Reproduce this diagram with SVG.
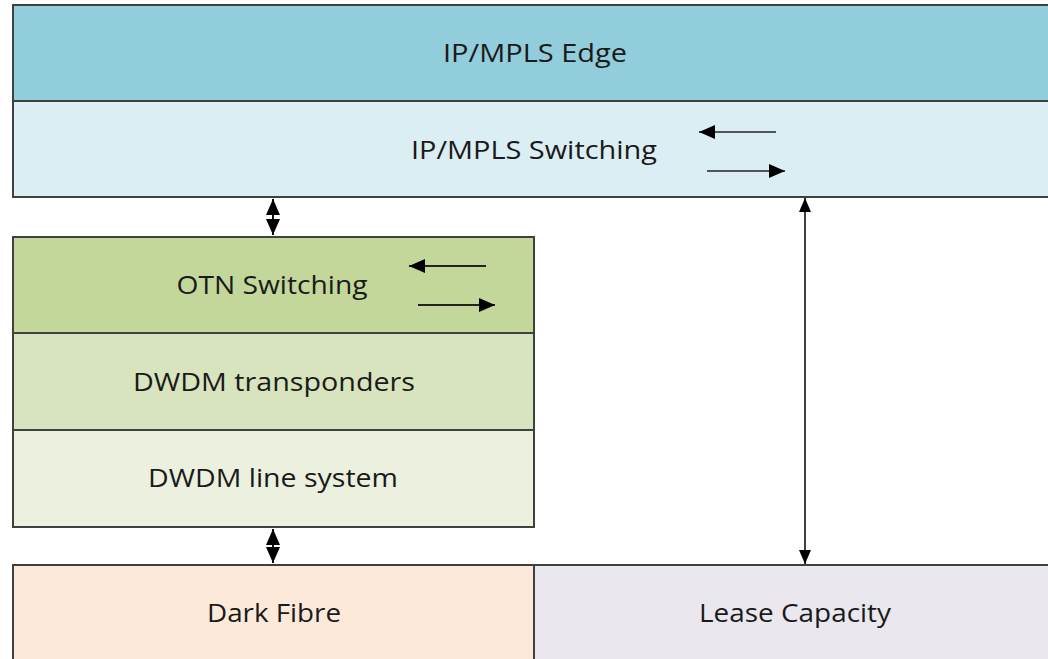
<svg xmlns="http://www.w3.org/2000/svg" width="1048" height="659" viewBox="0 0 1048 659">
  <defs>
    <style>
      .box { stroke: #404040; stroke-width: 2; }
      .lbl { font-family: "Open Sans", "Liberation Sans", sans-serif; font-size: 26px; fill: #1a1a1a; text-anchor: middle; }
      .conn { stroke: #111; stroke-width: 1.6; fill: none; }
      .flow { stroke: #222; stroke-width: 2; fill: none; }
    </style>
    <!-- stubby double-ended head for the short layer links -->
    <marker id="headL" viewBox="0 0 10 10" refX="10" refY="5" markerWidth="16" markerHeight="14" markerUnits="userSpaceOnUse" orient="auto-start-reverse" preserveAspectRatio="none">
      <path d="M0,0 L10,5 L0,10 z" fill="#000"/>
    </marker>
    <!-- head for the long lease-capacity link -->
    <marker id="headS" viewBox="0 0 10 10" refX="10" refY="5" markerWidth="14" markerHeight="12" markerUnits="userSpaceOnUse" orient="auto-start-reverse" preserveAspectRatio="none">
      <path d="M0,0 L10,5 L0,10 z" fill="#000"/>
    </marker>
    <!-- head for the switching direction arrows -->
    <marker id="headF" viewBox="0 0 10 10" refX="10" refY="5" markerWidth="16" markerHeight="14" markerUnits="userSpaceOnUse" orient="auto" preserveAspectRatio="none">
      <path d="M0,0 L10,5 L0,10 z" fill="#000"/>
    </marker>
  </defs>

  <rect width="1048" height="659" fill="#ffffff"/>

  <!-- IP/MPLS layer -->
  <g id="ip-mpls-edge">
    <rect class="box" x="13" y="5" width="1050" height="96" fill="#92CDDC"/>
    <text class="lbl" x="535" y="62" textLength="184" lengthAdjust="spacingAndGlyphs">IP/MPLS Edge</text>
  </g>
  <g id="ip-mpls-switching">
    <rect class="box" x="13" y="101" width="1050" height="96" fill="#DBEEF3"/>
    <text class="lbl" x="534" y="159" textLength="246" lengthAdjust="spacingAndGlyphs">IP/MPLS Switching</text>
  </g>

  <!-- optical stack -->
  <g id="otn-switching">
    <rect class="box" x="13" y="237" width="521" height="96" fill="#C4D79B"/>
    <text class="lbl" x="272" y="294" textLength="191" lengthAdjust="spacingAndGlyphs">OTN Switching</text>
  </g>
  <g id="dwdm-transponders">
    <rect class="box" x="13" y="333" width="521" height="97" fill="#D7E4BD"/>
    <text class="lbl" x="274" y="391" textLength="282" lengthAdjust="spacingAndGlyphs">DWDM transponders</text>
  </g>
  <g id="dwdm-line-system">
    <rect class="box" x="13" y="430" width="521" height="97" fill="#EBF1DE"/>
    <text class="lbl" x="273" y="487" textLength="250" lengthAdjust="spacingAndGlyphs">DWDM line system</text>
  </g>

  <!-- physical layer -->
  <g id="dark-fibre">
    <rect class="box" x="13" y="565" width="521" height="110" fill="#FDE9D9"/>
    <text class="lbl" x="274" y="622" textLength="134" lengthAdjust="spacingAndGlyphs">Dark Fibre</text>
  </g>
  <g id="lease-capacity">
    <rect class="box" x="534" y="565" width="530" height="110" fill="#EAE7EF"/>
    <text class="lbl" x="795" y="622" textLength="192" lengthAdjust="spacingAndGlyphs">Lease Capacity</text>
  </g>

  <!-- connectors -->
  <g id="connectors">
    <line class="conn" x1="273" y1="199" x2="273" y2="235" marker-start="url(#headL)" marker-end="url(#headL)" style="stroke-width:2"/>
    <line class="conn" x1="273" y1="529" x2="273" y2="563" marker-start="url(#headL)" marker-end="url(#headL)" style="stroke-width:2"/>
    <line class="conn" x1="805" y1="198" x2="805" y2="564" marker-start="url(#headS)" marker-end="url(#headS)"/>

    <!-- switching direction arrows -->
    <line class="flow" x1="776" y1="132" x2="699" y2="132" marker-end="url(#headF)" style="stroke:#555"/>
    <line class="flow" x1="707" y1="171" x2="785" y2="171" marker-end="url(#headF)" style="stroke:#555"/>
    <line class="flow" x1="486" y1="266" x2="409" y2="266" marker-end="url(#headF)"/>
    <line class="flow" x1="418" y1="305" x2="495" y2="305" marker-end="url(#headF)"/>
  </g>
</svg>
